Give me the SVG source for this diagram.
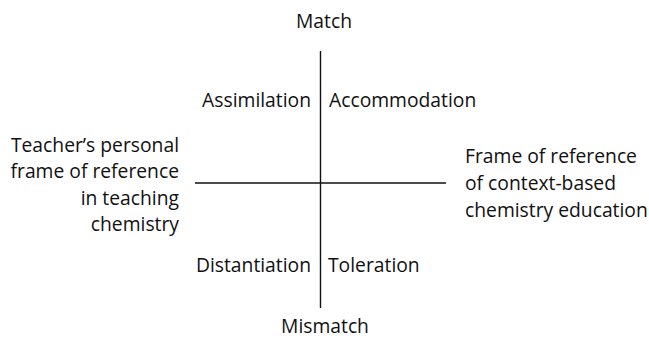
<svg xmlns="http://www.w3.org/2000/svg" width="649" height="338" viewBox="0 0 649 338">
<style>
text{font-family:"Open Sans","Liberation Sans",sans-serif;font-size:19.3px;fill:#111}
.r{text-anchor:end}
.m{text-anchor:middle}
.ax{stroke:#111;stroke-width:1.4;fill:none}
</style>
<rect width="649" height="338" fill="#fff"/>
<g id="connectors">
<line class="ax" x1="320.5" y1="51" x2="320.5" y2="308"/>
<line class="ax" x1="195" y1="183" x2="446" y2="183"/>
</g>
<g id="match"><text class="m" x="324" y="28">Match</text></g>
<g id="mismatch"><text class="m" x="325" y="333">Mismatch</text></g>
<g id="assimilation"><text class="r" x="311" y="107">Assimilation</text></g>
<g id="accommodation"><text x="329" y="107">Accommodation</text></g>
<g id="distantiation"><text class="r" x="311" y="272">Distantiation</text></g>
<g id="toleration"><text x="328" y="272">Toleration</text></g>
<g id="teacher-frame">
<text class="r" x="179" y="152">Teacher’s personal</text>
<text class="r" x="179" y="178">frame of reference</text>
<text class="r" x="179" y="205">in teaching</text>
<text class="r" x="179" y="231">chemistry</text>
</g>
<g id="context-frame">
<text x="465" y="163">Frame of reference</text>
<text x="465" y="190">of context-based</text>
<text x="465" y="217">chemistry education</text>
</g>
</svg>
